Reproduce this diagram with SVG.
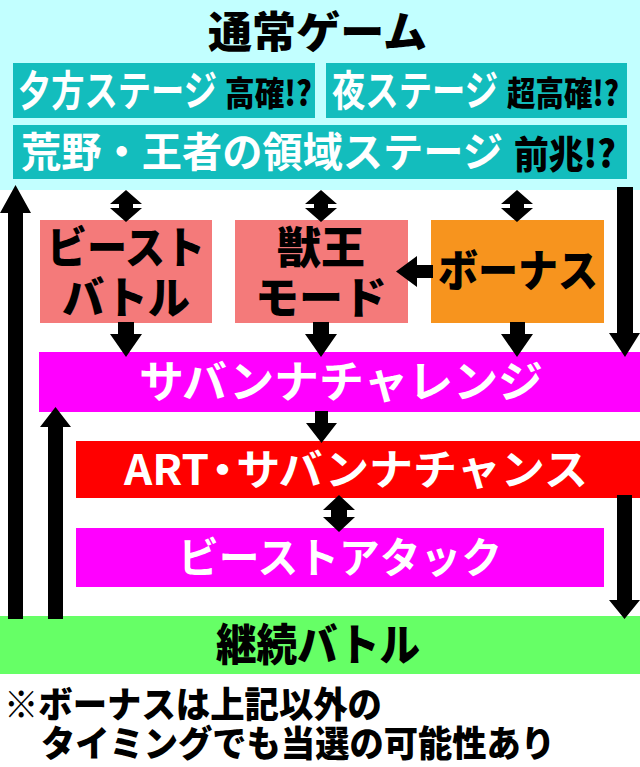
<svg xmlns="http://www.w3.org/2000/svg" width="640" height="767" viewBox="0 0 640 767">
<style>
.t{font-family:"Noto Sans CJK JP","Noto Sans",sans-serif;font-weight:700}
.w{fill:#fff}
.k{fill:#000;font-weight:900}
.teal{fill:#13BDBD}
.salmon{fill:#F47A7A}
.orange{fill:#F7941E}
.mag{fill:#FF00FF}
.red{fill:#FF0000}
.green{fill:#66FF66}
.arr{fill:#000}
</style>
<rect x="0" y="0" width="640" height="767" fill="#fff"/>
<g id="normal">
<rect x="0" y="0" width="640" height="190" fill="#C2FFFF"/>
<text class="t k" x="208" y="48" font-size="43" textLength="219" lengthAdjust="spacingAndGlyphs">通常ゲーム</text>
</g>
<g id="evening">
<rect class="teal" x="13" y="63" width="302" height="55"/>
<text class="t w" x="18" y="106" font-size="42" textLength="199" lengthAdjust="spacingAndGlyphs">夕方ステージ</text>
<text class="t k" x="225" y="106" font-size="34" textLength="87" lengthAdjust="spacingAndGlyphs">高確!?</text>
</g>
<g id="night">
<rect class="teal" x="326" y="63" width="301" height="55"/>
<text class="t w" x="332" y="106" font-size="42" textLength="166" lengthAdjust="spacingAndGlyphs">夜ステージ</text>
<text class="t k" x="507" y="106" font-size="34" textLength="112" lengthAdjust="spacingAndGlyphs">超高確!?</text>
</g>
<g id="wild">
<rect class="teal" x="13" y="125" width="614" height="54"/>
<text class="t w" x="21" y="167" font-size="41" textLength="482" lengthAdjust="spacingAndGlyphs">荒野・王者の領域ステージ</text>
<text class="t k" x="514" y="168" font-size="38" textLength="102" lengthAdjust="spacingAndGlyphs">前兆!?</text>
</g>
<g id="beast-battle">
<rect class="salmon" x="40" y="220" width="172" height="103"/>
<text class="t k" x="47" y="264" font-size="44" textLength="158" lengthAdjust="spacingAndGlyphs">ビースト</text>
<text class="t k" x="62" y="314" font-size="44" textLength="128" lengthAdjust="spacingAndGlyphs">バトル</text>
</g>
<g id="king-mode">
<rect class="salmon" x="235" y="220" width="173" height="103"/>
<text class="t k" x="321" y="264" font-size="44" text-anchor="middle">獣王</text>
<text class="t k" x="321" y="314" font-size="44" text-anchor="middle">モード</text>
</g>
<g id="bonus">
<rect class="orange" x="431" y="220" width="173" height="103"/>
<text class="t k" x="438" y="287" font-size="44" textLength="160" lengthAdjust="spacingAndGlyphs">ボーナス</text>
</g>
<g id="savanna-challenge">
<rect class="mag" x="39" y="352" width="601" height="60"/>
<text class="t w" x="139" y="398" font-size="44" textLength="404" lengthAdjust="spacingAndGlyphs">サバンナチャレンジ</text>
</g>
<g id="art">
<rect class="red" x="76" y="441" width="564" height="57"/>
<text class="t w" x="124" y="485" font-size="42" textLength="464" lengthAdjust="spacingAndGlyphs">ART<tspan dx="-8">・</tspan><tspan dx="-8">サバンナチャンス</tspan></text>
</g>
<g id="beast-attack">
<rect class="mag" x="76" y="528" width="528" height="59"/>
<text class="t w" x="178" y="573" font-size="42" textLength="324" lengthAdjust="spacingAndGlyphs">ビーストアタック</text>
</g>
<g id="continue-battle">
<rect class="green" x="0" y="616" width="640" height="58"/>
<text class="t k" x="216" y="661" font-size="44" textLength="204" lengthAdjust="spacingAndGlyphs">継続バトル</text>
</g>
<g id="note">
<text class="t k" x="4" y="718" font-size="36" textLength="378" lengthAdjust="spacingAndGlyphs">※ボーナスは上記以外の</text>
<text class="t k" x="41" y="757" font-size="36" textLength="514" lengthAdjust="spacingAndGlyphs">タイミングでも当選の可能性あり</text>
</g>
<g id="connectors" class="arr">
<polygon points="8,619 8,213 0,213 15.5,185 31,213 23,213 23,619"/>
<polygon points="48,619 48,427 40,427 55.5,407 71,427 63,427 63,619"/>
<polygon points="617,187 633,187 633,333 640,333 625,357 609,333 617,333"/>
<polygon points="617,495 632,495 632,600 640,600 624.5,619 609,600 617,600"/>
<polygon points="126,190 142,204 133,204 133,208 142,208 126,222 110,208 119,208 119,204 110,204"/>
<polygon points="321,190 337,204 328,204 328,208 337,208 321,222 305,208 314,208 314,204 305,204"/>
<polygon points="517,190 533,204 524,204 524,208 533,208 517,222 501,208 510,208 510,204 501,204"/>
<polygon points="118,322 134,322 134,334 142,334 126,357 110,334 118,334"/>
<polygon points="313,322 329,322 329,334 337,334 321,357 305,334 313,334"/>
<polygon points="510,322 525,322 525,334 533,334 517,357 501,334 510,334"/>
<polygon points="433,265 417,265 417,256 396,271.5 417,287 417,278 433,278"/>
<polygon points="315,411 328,411 328,423 337,423 321.5,443 306,423 315,423"/>
<polygon points="339,495 355,510 347,510 347,517 355,517 339,532 323,517 331,517 331,510 323,510"/>
</g>
</svg>
